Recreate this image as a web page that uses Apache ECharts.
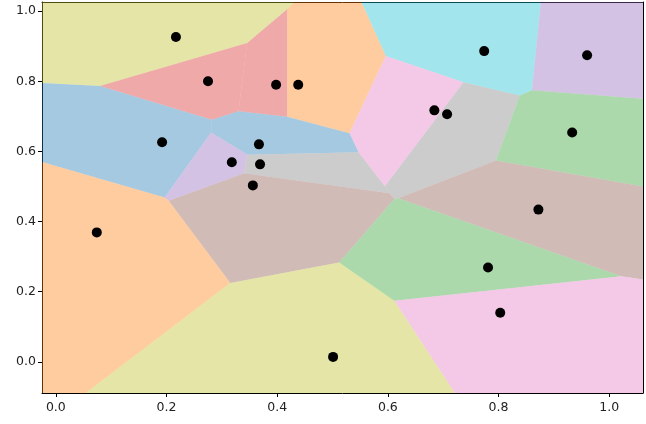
<!DOCTYPE html>
<html><head><meta charset="utf-8">
<script src="https://cdn.jsdelivr.net/npm/echarts@6/dist/echarts.min.js"></script>
<style>html,body{margin:0;padding:0;background:#fff}#c{width:646px;height:424px}</style>
</head><body><div id="c"></div>
<script>
const xs = [0.217,0.275,0.398,0.438,0.192,0.367,0.318,0.369,0.356,0.074,0.501,0.774,0.960,0.684,0.707,0.933,0.872,0.781,0.803];
const ys = [0.926,0.80,0.79,0.79,0.626,0.62,0.569,0.563,0.503,0.369,0.014,0.886,0.874,0.717,0.706,0.654,0.434,0.269,0.14];
const cellColors = ['#bcbd22','#d62728','#d62728','#ff7f0e','#1f77b4','#1f77b4','#9467bd','#7f7f7f','#8c564b','#ff7f0e','#bcbd22','#17becf','#9467bd','#e377c2','#7f7f7f','#2ca02c','#8c564b','#2ca02c','#e377c2'];
const xTicks = [0,0.2,0.4,0.6,0.8,1.0];
const yTicks = [0,0.2,0.4,0.6,0.8,1.0];

function clip(poly, px, py, qx, qy){
  const mx=(px+qx)/2, my=(py+qy)/2, dx=qx-px, dy=qy-py;
  const f = p => (p[0]-mx)*dx+(p[1]-my)*dy;
  const out=[];
  for(let i=0;i<poly.length;i++){
    const a=poly[i], b=poly[(i+1)%poly.length], fa=f(a), fb=f(b);
    if(fa<=0) out.push(a);
    if((fa<0&&fb>0)||(fa>0&&fb<0)){const t=fa/(fa-fb); out.push([a[0]+t*(b[0]-a[0]),a[1]+t*(b[1]-a[1])]);}
  }
  return out;
}
const cells = xs.map((x,i)=>{
  let poly=[[-2,-2],[3,-2],[3,3],[-2,3]];
  xs.forEach((x2,j)=>{ if(j!==i) poly=clip(poly,x,ys[i],x2,ys[j]); });
  return poly;
});

const chart = echarts.init(document.getElementById('c'));
const lab = {color:'#222',fontFamily:'DejaVu Sans',fontSize:12.5};
const XMIN=-0.025, XMAX=1.061, YMIN=-0.089, YMAX=1.026;
chart.setOption({
  animation:false,
  grid:{left:42,right:3,top:2,bottom:31},
  xAxis:[{type:'value',min:XMIN,max:XMAX,splitLine:{show:false},
    axisLine:{onZero:false,lineStyle:{color:'#000'}},
    axisTick:{show:true,length:4,lineStyle:{color:'#000'},customValues:xTicks},
    axisLabel:{...lab,margin:8,customValues:xTicks,formatter:v=>v.toFixed(1)}},
    {type:'value',position:'top',min:XMIN,max:XMAX,splitLine:{show:false},axisTick:{show:false},axisLabel:{show:false},axisLine:{show:true,onZero:false,lineStyle:{color:'#000'}}}],
  yAxis:[{type:'value',min:YMIN,max:YMAX,splitLine:{show:false},
    axisLine:{show:true,onZero:false,lineStyle:{color:'#000'}},
    axisTick:{show:true,length:4,lineStyle:{color:'#000'},customValues:yTicks},
    axisLabel:{...lab,margin:6,customValues:yTicks,formatter:v=>v.toFixed(1)}},
    {type:'value',position:'right',min:YMIN,max:YMAX,splitLine:{show:false},axisTick:{show:false},axisLabel:{show:false},axisLine:{show:true,onZero:false,lineStyle:{color:'#000'}}}],
  series:[
    {type:'custom',clip:true,data:cells.map((c,i)=>[xs[i],ys[i],i]),
     renderItem:(params,api)=>{
       const i=api.value(2);
       return {type:'polygon',shape:{points:cells[i].map(p=>api.coord(p))},
         style:{fill:cellColors[i],opacity:0.4,stroke:null}};
     }},
    {type:'scatter',data:xs.map((x,i)=>[x,ys[i]]),symbolSize:10,itemStyle:{color:'#000',opacity:1},z:5}
  ]
});
</script></body></html>
